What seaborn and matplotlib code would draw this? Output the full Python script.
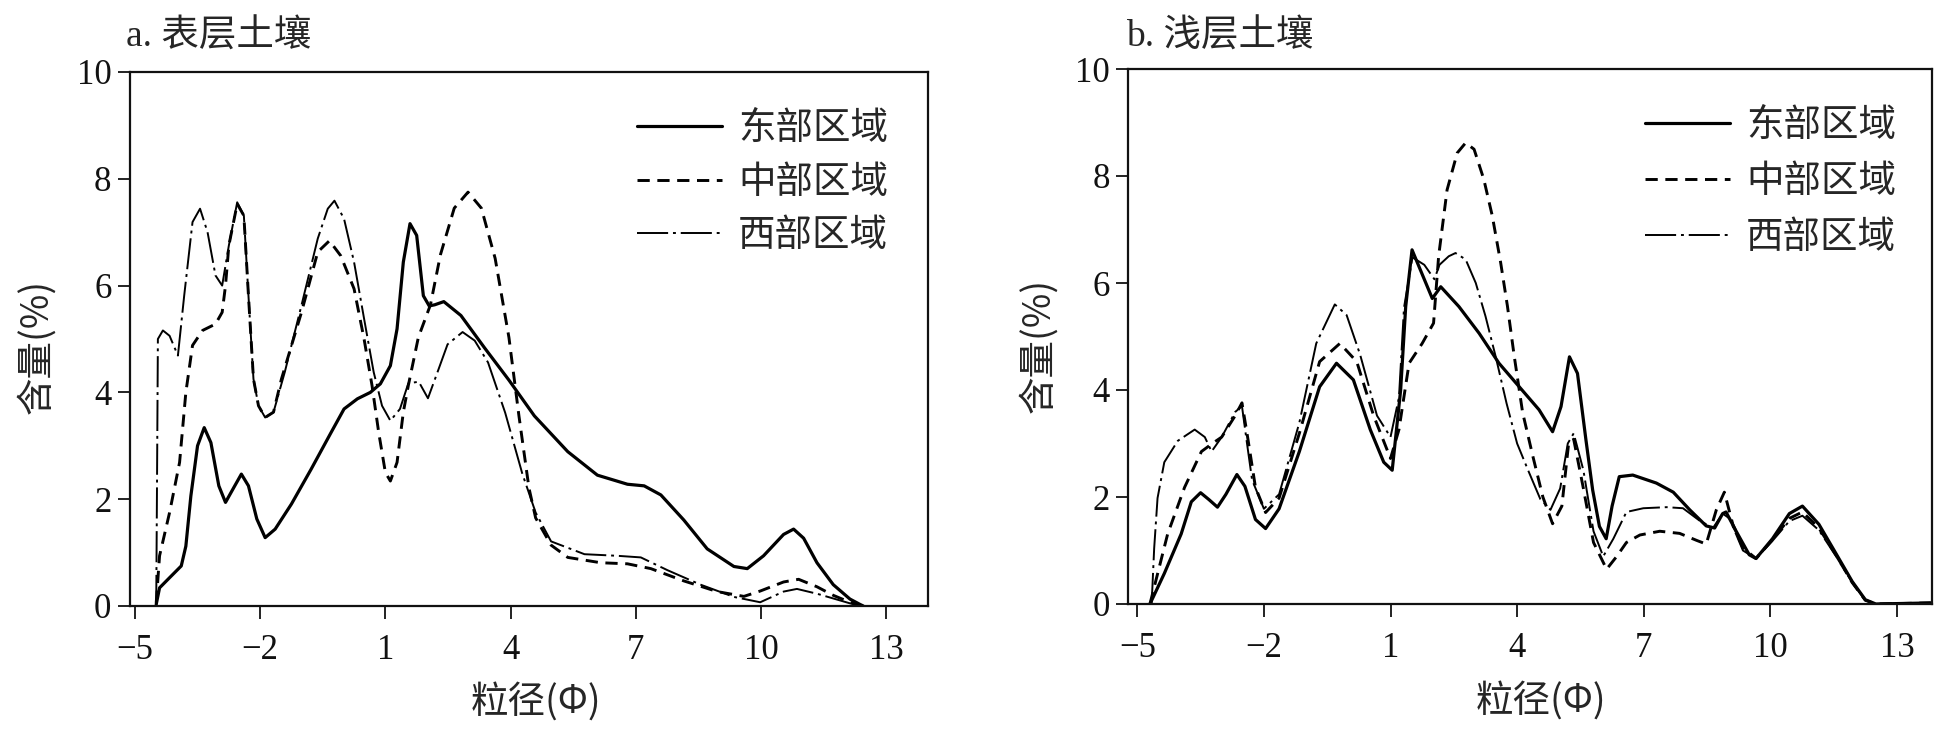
import matplotlib
matplotlib.use("Agg")
import matplotlib.pyplot as plt
from matplotlib.lines import Line2D
import seaborn as sns
import pandas as pd

# ---------------- data ----------------
regions = ["东部区域", "中部区域", "西部区域"]
x_ticks = [-5, -2, 1, 4, 7, 10, 13]
y_ticks = [0, 2, 4, 6, 8, 10]
panel_titles = ["a. 表层土壤", "b. 浅层土壤"]
x_label = "粒径(Φ)"
y_label = "含量(%)"

# panel a - surface soil
a_east_x = [-4.49, -4.41, -4.17, -3.89, -3.78, -3.66, -3.50, -3.34, -3.18, -2.99, -2.83, -2.63, -2.45,
            -2.28, -2.08, -1.88, -1.64, -1.25, -0.78, -0.30, 0.01, 0.33, 0.64, 0.88, 1.12, 1.28,
            1.43, 1.59, 1.75, 1.91, 2.05, 2.18, 2.40, 2.81, 3.38, 3.96, 4.57, 5.37, 6.08, 6.80,
            7.20, 7.60, 8.15, 8.71, 9.35, 9.67, 10.06, 10.54, 10.78, 11.02, 11.34, 11.73, 12.13,
            12.37, 12.45]
a_east_y = [0.03, 0.34, 0.53, 0.75, 1.12, 2.06, 3.00, 3.34, 3.06, 2.25, 1.94, 2.22, 2.47,
            2.25, 1.63, 1.28, 1.44, 1.91, 2.56, 3.25, 3.69, 3.88, 4.00, 4.16, 4.50, 5.19,
            6.44, 7.16, 6.94, 5.81, 5.62, 5.64, 5.70, 5.44, 4.83, 4.23, 3.56, 2.89, 2.45, 2.28,
            2.25, 2.08, 1.61, 1.07, 0.74, 0.70, 0.94, 1.34, 1.44, 1.27, 0.81, 0.40, 0.13,
            0.03, 0.0]

a_mid_x = [-4.49, -4.41, -4.17, -3.93, -3.78, -3.62, -3.38, -3.07, -2.91, -2.83, -2.75, -2.55, -2.39,
           -2.28, -2.16, -2.04, -1.88, -1.68, -1.49, -1.01, -0.62, -0.34, -0.07, 0.25, 0.49, 0.68,
           0.84, 1.00, 1.12, 1.28, 1.43, 1.55, 1.79, 2.08, 2.32, 2.65, 2.98, 3.30, 3.63, 3.96,
           4.20, 4.44, 4.60, 4.97, 5.37, 6.16, 6.80, 7.36, 8.15, 8.95, 9.59, 9.98, 10.54, 10.90,
           11.34, 11.73, 12.13, 12.40]
a_mid_y = [0.06, 0.94, 1.75, 2.69, 4.00, 4.88, 5.16, 5.28, 5.50, 6.00, 6.75, 7.53, 7.31,
           5.81, 4.25, 3.75, 3.53, 3.63, 4.25, 5.50, 6.63, 6.84, 6.56, 5.94, 5.00, 4.13,
           3.25, 2.50, 2.34, 2.69, 3.63, 4.13, 5.03, 5.64, 6.58, 7.45, 7.75, 7.45, 6.51, 5.03,
           3.56, 2.21, 1.65, 1.14, 0.91, 0.81, 0.79, 0.70, 0.47, 0.27, 0.18, 0.28, 0.45, 0.50,
           0.36, 0.20, 0.07, 0.0]

a_west_x = [-4.49, -4.47, -4.45, -4.33, -4.17, -3.97, -3.82, -3.62, -3.44, -3.26, -3.07, -2.91, -2.75,
            -2.55, -2.39, -2.28, -2.16, -2.04, -1.88, -1.68, -1.41, -1.01, -0.62, -0.38, -0.22,
            0.01, 0.25, 0.49, 0.72, 0.92, 1.12, 1.35, 1.55, 1.80, 2.02, 2.24, 2.49, 2.85, 3.14,
            3.46, 3.87, 4.28, 4.60, 4.97, 5.77, 6.56, 7.12, 7.76, 8.55, 9.35, 9.98, 10.54, 10.86,
            11.34, 12.13, 12.40]
a_west_y = [0.0, 2.40, 5.00, 5.16, 5.06, 4.69, 5.81, 7.19, 7.44, 7.00, 6.19, 6.00, 6.75,
            7.56, 7.31, 5.81, 4.25, 3.75, 3.53, 3.63, 4.38, 5.63, 6.88, 7.44, 7.59,
            7.25, 6.44, 5.38, 4.38, 3.75, 3.47, 3.69, 4.17, 4.20, 3.89, 4.36, 4.90, 5.13, 4.97,
            4.56, 3.62, 2.48, 1.75, 1.21, 0.97, 0.94, 0.91, 0.67, 0.40, 0.17, 0.07, 0.27, 0.32,
            0.23, 0.05, 0.0]

# panel b - shallow soil
b_east_x = [-4.70, -4.36, -3.96, -3.72, -3.50, -3.30, -3.10, -2.90, -2.64, -2.45, -2.20, -1.96, -1.64,
            -1.16, -0.68, -0.28, 0.12, 0.52, 0.84, 1.04, 1.24, 1.36, 1.51, 1.71, 1.99, 2.19, 2.62,
            3.10, 3.57, 4.05, 4.52, 4.84, 5.04, 5.24, 5.43, 5.63, 5.79, 5.95, 6.11, 6.25, 6.42,
            6.74, 7.30, 7.70, 8.09, 8.48, 8.68, 8.87, 8.95, 9.19, 9.50, 9.66, 10.05, 10.45, 10.76,
            11.15, 11.55, 11.94, 12.25, 12.50, 13.80]
b_east_y = [0.0, 0.57, 1.31, 1.91, 2.08, 1.95, 1.81, 2.05, 2.42, 2.20, 1.58, 1.41, 1.78,
            2.85, 4.06, 4.50, 4.19, 3.26, 2.65, 2.50, 4.00, 5.56, 6.62, 6.24, 5.71, 5.93, 5.56,
            5.06, 4.50, 4.06, 3.63, 3.22, 3.69, 4.62, 4.31, 3.07, 2.13, 1.45, 1.22, 1.83, 2.38,
            2.41, 2.26, 2.09, 1.76, 1.46, 1.42, 1.69, 1.72, 1.36, 0.92, 0.85, 1.22, 1.69, 1.83,
            1.49, 0.95, 0.42, 0.08, 0.0, 0.02]

b_mid_x = [-4.70, -4.28, -3.88, -3.48, -3.24, -3.00, -2.68, -2.52, -2.40, -2.20, -1.96, -1.64, -1.16,
           -0.68, -0.20, 0.20, 0.60, 1.00, 1.20, 1.44, 1.75, 2.02, 2.14, 2.34, 2.58, 2.78, 2.98,
           3.21, 3.41, 3.61, 3.77, 3.93, 4.13, 4.37, 4.61, 4.84, 5.06, 5.22, 5.34, 5.57, 5.81,
           6.12, 6.36, 6.59, 6.91, 7.38, 7.85, 8.25, 8.48, 8.72, 8.91, 9.11, 9.35, 9.66, 10.05,
           10.45, 10.76, 11.15, 11.55, 11.94, 12.25, 12.50, 13.80]
b_mid_y = [0.0, 1.31, 2.18, 2.85, 2.99, 3.12, 3.52, 3.76, 3.19, 2.18, 1.71, 1.98, 3.19,
           4.53, 4.87, 4.53, 3.52, 2.72, 3.26, 4.50, 4.87, 5.25, 6.50, 7.74, 8.43, 8.62, 8.50,
           7.94, 7.26, 6.38, 5.57, 4.64, 3.58, 2.77, 2.00, 1.50, 1.83, 3.00, 3.08, 2.16, 1.15,
           0.65, 0.89, 1.15, 1.29, 1.36, 1.32, 1.19, 1.12, 1.76, 2.09, 1.49, 1.05, 0.85, 1.20,
           1.60, 1.72, 1.42, 0.92, 0.40, 0.07, 0.0, 0.02]

b_west_x = [-4.66, -4.60, -4.52, -4.36, -4.04, -3.64, -3.40, -3.24, -3.00, -2.68, -2.52, -2.40, -2.28,
            -2.00, -1.64, -1.16, -0.76, -0.32, -0.04, 0.28, 0.68, 1.00, 1.20, 1.32, 1.52, 1.80,
            2.04, 2.16, 2.38, 2.54, 2.78, 3.02, 3.25, 3.49, 3.75, 4.00, 4.26, 4.55, 4.79, 5.02,
            5.20, 5.34, 5.57, 5.81, 6.04, 6.28, 6.59, 6.99, 7.54, 7.93, 8.32, 8.64, 8.87, 9.03,
            9.35, 9.66, 10.05, 10.45, 10.76, 11.15, 11.55, 11.94, 12.25, 12.50, 13.80]
b_west_y = [0.0, 1.04, 1.98, 2.65, 3.05, 3.26, 3.12, 2.85, 3.12, 3.59, 3.70, 3.00, 2.32,
            1.78, 2.05, 3.39, 4.87, 5.60, 5.40, 4.66, 3.52, 3.12, 3.86, 5.54, 6.48, 6.34,
            6.07, 6.34, 6.50, 6.56, 6.44, 6.00, 5.38, 4.63, 3.75, 3.00, 2.50, 1.96, 1.76, 2.16,
            3.00, 3.19, 2.50, 1.36, 0.89, 1.22, 1.72, 1.79, 1.81, 1.79, 1.56, 1.42, 1.69, 1.60,
            1.00, 0.85, 1.18, 1.55, 1.65, 1.38, 0.90, 0.40, 0.07, 0.0, 0.02]

panels = [
    [(a_east_x, a_east_y), (a_mid_x, a_mid_y), (a_west_x, a_west_y)],
    [(b_east_x, b_east_y), (b_mid_x, b_mid_y), (b_west_x, b_west_y)],
]

# ---------------- style ----------------
sns.set_style("ticks")
CJK = "Noto Sans CJK SC"
SERIF = "Liberation Serif"
plt.rcParams["font.family"] = [SERIF, CJK, "DejaVu Sans"]
plt.rcParams["axes.unicode_minus"] = True

line_styles = {
    "东部区域": dict(lw=2.3, ls="-"),
    "中部区域": dict(lw=2.1, ls=(0, (4.2, 2.6))),
    "西部区域": dict(lw=1.4, ls=(0, (16, 2.5, 1.5, 2.5))),
}

W, H = 1935, 731
fig = plt.figure(figsize=(W / 100, H / 100), dpi=100)
axes_px = [(129.5, 72, 928, 606), (1128, 69, 1932, 604)]
xlims = [(-5.13, 14.0), (-5.22, 13.83)]
title_px = [(126, 37), (1126, 37)]
ylabel_px = [(37, 346), (1039, 345)]
xlabel_px = [(536, 702), (1541, 701)]
legend_anchor = [(0.969, 0.958), (0.974, 0.959)]
legend_spacing = [0.38, 0.45]

for i, ax_px in enumerate(axes_px):
    l, t, r, b = ax_px
    ax = fig.add_axes([l / W, (H - b) / H, (r - l) / W, (b - t) / H])
    handles = []
    for name, (xs, ys) in zip(regions, panels[i]):
        df = pd.DataFrame({"粒径": xs, "含量": ys})
        st = line_styles[name]
        sns.lineplot(data=df, x="粒径", y="含量", ax=ax, color="black",
                     linewidth=st["lw"], linestyle=st["ls"], estimator=None,
                     sort=False, legend=False)
        handles.append(Line2D([0], [0], color="black", lw=st["lw"], ls=st["ls"]))
    ax.set_xlim(*xlims[i])
    ax.set_ylim(0, 10)
    ax.set_xticks(x_ticks)
    ax.set_yticks(y_ticks)
    ax.set_xlabel("")
    ax.set_ylabel("")
    for s in ax.spines.values():
        s.set_linewidth(1.6)
        s.set_color("#111111")
    ax.tick_params(axis="both", direction="out", length=9, width=1.3,
                   labelsize=25, colors="#111111")
    ax.tick_params(axis="x", pad=11)
    ax.tick_params(axis="y", pad=4)
    for lab in ax.get_xticklabels() + ax.get_yticklabels():
        lab.set_fontfamily(SERIF)
    ax.legend(handles, regions, loc="upper right",
              bbox_to_anchor=legend_anchor[i], frameon=False,
              prop={"family": CJK, "size": 27}, handlelength=2.27,
              handletextpad=0.43, labelspacing=legend_spacing[i], borderaxespad=0)
    fig.text(title_px[i][0] / W, 1 - title_px[i][1] / H, panel_titles[i],
             fontsize=27, family=[SERIF, CJK], ha="left", va="center")
    fig.text(ylabel_px[i][0] / W, 1 - ylabel_px[i][1] / H, y_label,
             fontsize=27, family=[CJK, SERIF], ha="center", va="center", rotation=90)
    fig.text(xlabel_px[i][0] / W, 1 - xlabel_px[i][1] / H, x_label,
             fontsize=27, family=[CJK, SERIF], ha="center", va="center")

fig.savefig("out.png", dpi=100)
